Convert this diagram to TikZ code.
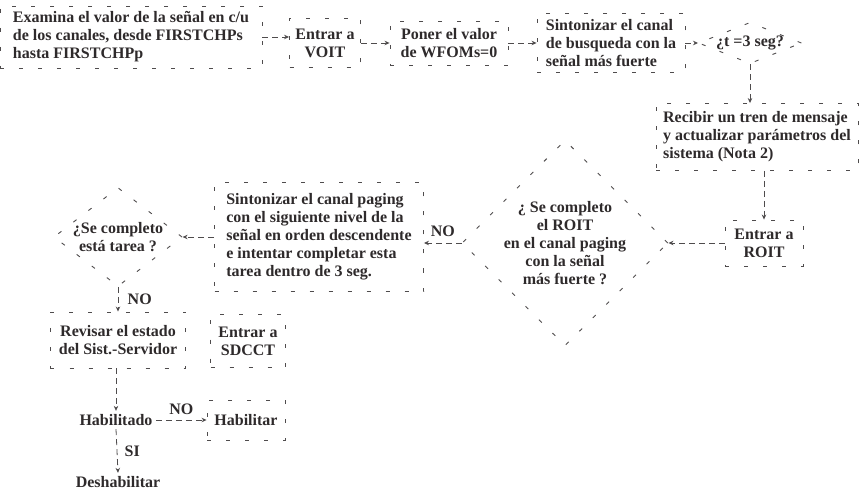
\documentclass[tikz,border=0pt]{standalone}
\usepackage{fontspec}
\setmainfont{Liberation Serif}
\usetikzlibrary{arrows.meta,shapes.geometric}
\definecolor{tinta}{cmyk}{0,0,0,0.95}
\definecolor{trazo}{cmyk}{0,0,0,0.80}

\begin{document}
\begin{tikzpicture}[x=1bp, y=-1bp, text=tinta,
  font=\bfseries\fontsize{16bp}{18bp}\selectfont,
  caja/.style={draw=trazo, line width=0.9bp, dash pattern=on 4bp off 15bp, inner sep=0pt, align=center},
  rombo/.style={caja, diamond},
  flecha/.style={draw=trazo, line width=0.8bp, dash pattern=on 6bp off 4bp, -{Stealth[length=5bp,width=4.5bp]}}]
  \useasboundingbox (0,0) rectangle (861,493);

  \node[caja, minimum width=262bp, minimum height=62bp, align=left] (examina) at (131,37)
    {Examina el valor de la señal en c/u\\de los canales, desde FIRSTCHPs\\hasta FIRSTCHPp};
  \node[caja, minimum width=71bp, minimum height=49bp] (voit) at (325,43) {Entrar a\\VOIT};
  \node[caja, minimum width=118bp, minimum height=44bp] (wfoms) at (449,43) {Poner el valor\\de WFOMs=0};
  \node[caja, minimum width=148bp, minimum height=59bp, align=left] (sintoniza) at (611,43)
    {Sintonizar el canal\\de busqueda con la\\señal más fuerte};
  \node[rombo, shape aspect=2.5] (tiempo) at (750,43) {¿t =3 seg?};
  \node[caja, minimum width=202bp, minimum height=67bp, align=left] (recibe) at (757,137)
    {Recibir un tren de mensaje\\y actualizar parámetros del\\sistema (Nota 2)};
  \node[caja, minimum width=78bp, minimum height=46bp] (roit) at (764,243) {Entrar a\\ROIT};
  \node[rombo, minimum width=206bp, minimum height=200bp] (completo) at (565,243)
    {¿ Se completo\\el ROIT\\en el canal paging\\con la señal\\más fuerte ?};
  \node[caja, minimum width=209bp, minimum height=109bp, align=left] (paging) at (319,237)
    {Sintonizar el canal paging\\con el siguiente nivel de la\\señal en orden descendente\\e intentar completar esta\\tarea dentro de 3 seg.};
  \node[rombo, shape aspect=1.3] (tarea) at (118,237) {¿Se completo\\está tarea ?};
  \node[caja, minimum width=135bp, minimum height=56bp] (revisa) at (118,340) {Revisar el estado\\del Sist.-Servidor};
  \node[caja, minimum width=75bp, minimum height=53bp] (sdcct) at (248,341) {Entrar a\\SDCCT};
  \node (habilitado) at (116,420) {Habilitado};
  \node[caja, minimum width=78bp, minimum height=40bp] (habilita) at (246,420) {Habilitar};
  \node (deshabilita) at (118,482) {Deshabilitar};

  \draw[flecha] (examina.east) -- (examina.east -| voit.west);
  \draw[flecha] (voit.east) -- (wfoms.west);
  \draw[flecha] (wfoms.east) -- (sintoniza.west);
  \draw[flecha] (sintoniza.east) -- (tiempo.west);
  \draw[flecha] (tiempo.south) -- (tiempo.south |- recibe.north);
  \draw[flecha] (recibe.south -| roit.north) -- (roit.north);
  \draw[flecha] (roit.west) -- (completo.east);
  \draw[flecha] (completo.west) -- node[above=3bp] {NO} (paging.east |- completo.west);
  \draw[flecha] (paging.west) -- (tarea.east);
  \draw[flecha] (tarea.south) -- node[right=6bp] {NO} (revisa.north);
  \draw[flecha] (revisa.south -| habilitado.north) -- (habilitado.north);
  \draw[flecha] (habilitado.east) -- node[above=2bp] {NO} (habilita.west);
  \draw[flecha] (habilitado.south) -- node[right=4bp] {SI} (deshabilita.north);
\end{tikzpicture}
\end{document}
